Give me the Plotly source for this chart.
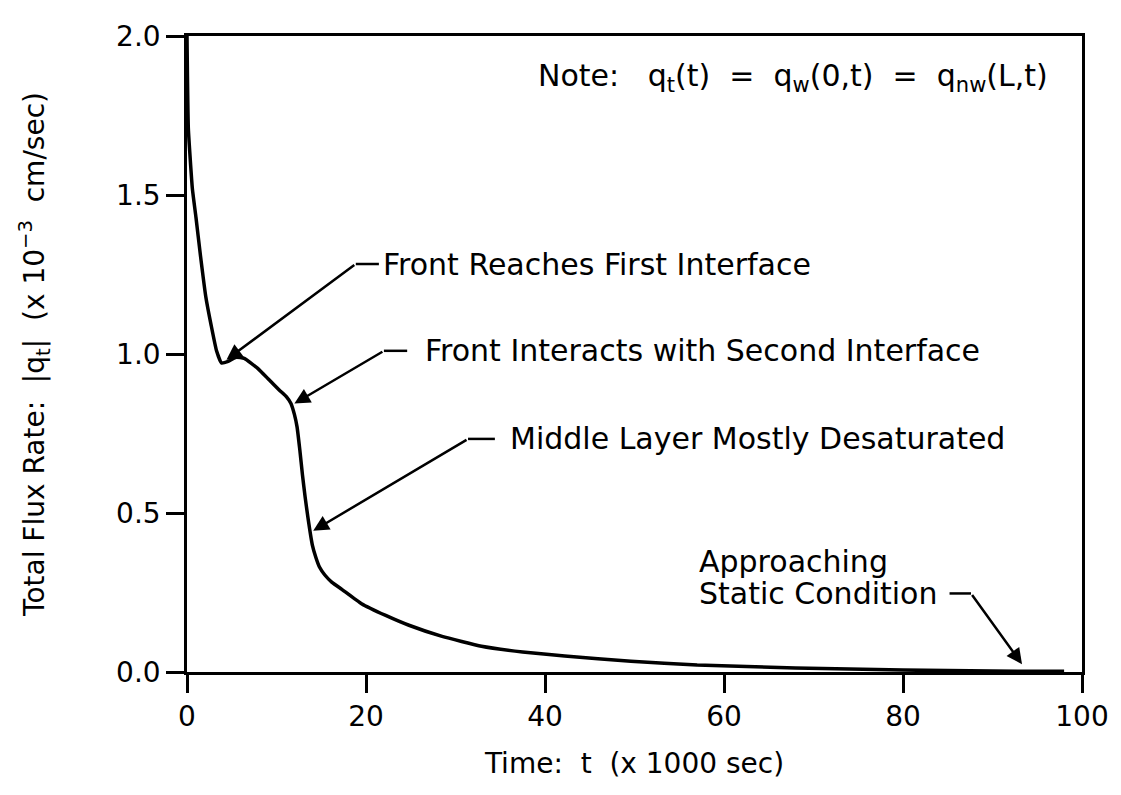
import plotly.graph_objects as go

# ---- data ----
time_k = [0, 0.15, 0.6, 1.0, 1.5, 2.1, 2.7, 3.3, 3.85, 4.6, 5.5, 6.4, 7.9, 9.2,
          10.3, 11.1, 11.6, 12.0, 12.3, 12.6, 12.9, 13.2, 13.5, 14.0, 14.4, 14.8,
          15.4, 16.2, 17.3, 19.5, 22.2, 24.8, 28.5, 32.9, 37.5, 42.2, 49.6, 57, 68,
          80, 90, 98]
flux = [2.0, 1.71, 1.52, 1.43, 1.31, 1.18, 1.09, 1.01, 0.972, 0.977, 0.990, 0.986,
        0.955, 0.918, 0.887, 0.866, 0.845, 0.81, 0.77, 0.70, 0.62, 0.55, 0.488,
        0.40, 0.36, 0.33, 0.305, 0.282, 0.26, 0.215, 0.178, 0.147, 0.112, 0.081,
        0.063, 0.050, 0.034, 0.022, 0.0125, 0.006, 0.003, 0.002]

x_ticks = [0, 20, 40, 60, 80, 100]
y_ticks = [0.0, 0.5, 1.0, 1.5, 2.0]
y_tick_labels = ["0.0", "0.5", "1.0", "1.5", "2.0"]

# leader annotations: text, text anchor point, elbow, dash end, arrow tip
ann_texts = ["Front Reaches First Interface",
             "Front Interacts with Second Interface",
             "Middle Layer Mostly Desaturated"]
ann_text_x = [21.7, 26.4, 35.9]
ann_text_y = [1.283, 1.010, 0.733]
ann_elbow_x = [18.86, 22.0, 31.4]
ann_elbow_y = [1.283, 1.010, 0.733]
ann_dash_end_x = [21.44, 24.6, 34.4]
ann_tip_x = [4.41, 12.0, 14.1]
ann_tip_y = [0.982, 0.844, 0.444]

static_lines = ["Approaching", "Static Condition"]
static_text_x = 57.0
static_line_y = [0.347, 0.247]
static_dash_x = [85.2, 87.6]
static_dash_y = 0.247
static_tip = (93.3, 0.0245)

note_text = ("Note:\u00a0\u00a0\u00a0q<sub>t</sub>(t)\u00a0\u00a0=\u00a0\u00a0q<sub>w</sub>(0,t)"
             "\u00a0\u00a0=\u00a0\u00a0q<sub>nw</sub>(L,t)")
note_x = 39.0
note_y = 1.87

FONT = "DejaVu Sans"
FS = 28
AFS = 30

fig = go.Figure()
fig.add_trace(go.Scatter(x=time_k, y=flux, mode="lines",
                         line=dict(color="black", width=3.5, shape="spline", smoothing=0.4),
                         showlegend=False, hoverinfo="skip"))

annotations = []
shapes = []


def arrow(tip_x, tip_y, tail_x, tail_y):
    return dict(x=tip_x, y=tip_y, xref="x", yref="y",
                ax=tail_x, ay=tail_y, axref="x", ayref="y",
                text="", showarrow=True, arrowhead=2, arrowsize=1.25,
                arrowwidth=2.5, arrowcolor="black", standoff=0)


for i, t in enumerate(ann_texts):
    annotations.append(dict(x=ann_text_x[i], y=ann_text_y[i], xref="x", yref="y",
                            text=t, showarrow=False, xanchor="left", yanchor="middle",
                            font=dict(family=FONT, size=AFS, color="black")))
    annotations.append(arrow(ann_tip_x[i], ann_tip_y[i], ann_elbow_x[i], ann_elbow_y[i]))
    shapes.append(dict(type="line", xref="x", yref="y",
                       x0=ann_elbow_x[i], x1=ann_dash_end_x[i],
                       y0=ann_elbow_y[i], y1=ann_elbow_y[i],
                       line=dict(color="black", width=2.5)))

for txt, yy in zip(static_lines, static_line_y):
    annotations.append(dict(x=static_text_x, y=yy, xref="x", yref="y",
                            text=txt, showarrow=False, xanchor="left", yanchor="middle",
                            font=dict(family=FONT, size=AFS, color="black")))
annotations.append(arrow(static_tip[0], static_tip[1], static_dash_x[1], static_dash_y))
shapes.append(dict(type="line", xref="x", yref="y",
                   x0=static_dash_x[0], x1=static_dash_x[1],
                   y0=static_dash_y, y1=static_dash_y,
                   line=dict(color="black", width=2.5)))

annotations.append(dict(x=note_x, y=note_y, xref="x", yref="y", text=note_text,
                        showarrow=False, xanchor="left", yanchor="middle",
                        font=dict(family=FONT, size=AFS, color="black")))

# the page body has an 8px default margin; the figure is sized so the plot box
# lands where the reference's does within the 1121x795 window
fig.update_layout(
    width=1113, height=779,
    margin=dict(l=179, r=34, t=13, b=113),
    paper_bgcolor="white", plot_bgcolor="white",
    font=dict(family=FONT, size=FS, color="black"),
    annotations=annotations, shapes=shapes,
    xaxis=dict(range=[0, 100], tickvals=x_ticks, ticks="outside", ticklen=18,
               tickwidth=2.5, tickcolor="black", showline=True, linewidth=2.5,
               linecolor="black", mirror=True, showgrid=False, zeroline=False,
               ticklabeloverflow="allow",
               tickfont=dict(family=FONT, size=FS),
               title=dict(text="Time:\u00a0\u00a0t\u00a0\u00a0(x\u00a01000\u00a0sec)",
                          font=dict(family=FONT, size=FS), standoff=22)),
    yaxis=dict(range=[0, 2.0], tickvals=y_ticks, ticktext=y_tick_labels,
               ticks="outside", ticklen=18, tickwidth=2.5, tickcolor="black",
               showline=True, linewidth=2.5, linecolor="black", mirror=True,
               showgrid=False, zeroline=False, ticklabeloverflow="allow",
               tickfont=dict(family=FONT, size=FS),
               title=dict(text="Total\u00a0Flux\u00a0Rate:\u00a0\u00a0|q<sub>t</sub>|\u00a0\u00a0(x\u00a010<sup>\u22123</sup>\u00a0\u00a0cm/sec)",
                          font=dict(family=FONT, size=FS), standoff=64)),
)

fig.write_html("out.html")
